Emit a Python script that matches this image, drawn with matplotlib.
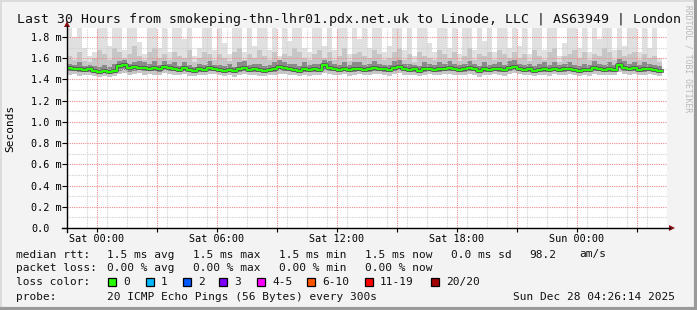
import numpy as np
import matplotlib
matplotlib.use("Agg")
import matplotlib.pyplot as plt
from matplotlib.patches import Rectangle, Polygon
from matplotlib.lines import Line2D
from matplotlib.ticker import MultipleLocator, FixedLocator

# ---------------- data (ms), 15-minute steps starting Fri 22:30 ----------------
median = [
1.51,1.50,1.50,1.49,1.50,1.48,1.47,1.48,1.47,1.48,
1.53,1.54,1.51,1.52,1.51,1.51,1.50,1.51,1.50,1.52,
1.51,1.50,1.49,1.51,1.49,1.48,1.50,1.49,1.51,1.50,
1.49,1.48,1.49,1.48,1.50,1.51,1.49,1.50,1.49,1.48,
1.49,1.50,1.52,1.51,1.50,1.49,1.48,1.50,1.49,1.50,
1.49,1.54,1.51,1.50,1.49,1.50,1.49,1.50,1.50,1.49,
1.50,1.51,1.50,1.50,1.49,1.51,1.52,1.50,1.49,1.50,
1.48,1.50,1.50,1.49,1.50,1.50,1.51,1.50,1.49,1.50,
1.51,1.50,1.48,1.50,1.49,1.50,1.50,1.49,1.51,1.52,
1.50,1.49,1.50,1.48,1.49,1.50,1.49,1.50,1.49,1.50,
1.50,1.49,1.48,1.49,1.49,1.51,1.50,1.49,1.50,1.49,
1.54,1.51,1.50,1.51,1.49,1.50,1.50,1.49,1.48]

smoke_hi = [
1.95,1.80,1.95,1.70,1.62,1.66,1.95,1.95,1.72,1.95,
1.95,1.68,1.95,1.95,1.75,1.64,1.95,1.95,1.70,1.95,
1.66,1.95,1.95,1.78,1.95,1.62,1.70,1.95,1.95,1.68,
1.95,1.74,1.64,1.95,1.95,1.66,1.95,1.72,1.95,1.95,
1.68,1.95,1.62,1.95,1.76,1.95,1.95,1.70,1.66,1.95,
1.95,1.72,1.95,1.68,1.95,1.95,1.64,1.95,1.78,1.95,
1.70,1.95,1.95,1.66,1.72,1.95,1.95,1.68,1.95,1.62,
1.95,1.95,1.74,1.66,1.95,1.95,1.70,1.95,1.64,1.95,
1.95,1.68,1.95,1.76,1.95,1.66,1.95,1.95,1.70,1.95,
1.72,1.95,1.64,1.95,1.95,1.68,1.95,1.95,1.62,1.74,
1.95,1.95,1.70,1.95,1.66,1.95,1.78,1.95,1.95,1.68,
1.95,1.72,1.95,1.95,1.66,1.95,1.70,1.95,1.60]

smoke_p90 = [
1.62,1.58,1.66,1.57,1.56,1.60,1.68,1.64,1.58,1.70,
1.66,1.60,1.64,1.72,1.62,1.58,1.66,1.70,1.60,1.64,
1.58,1.66,1.62,1.60,1.68,1.56,1.60,1.66,1.64,1.58,
1.64,1.60,1.57,1.66,1.70,1.58,1.64,1.60,1.68,1.62,
1.58,1.66,1.57,1.64,1.62,1.70,1.66,1.60,1.58,1.64,
1.68,1.60,1.66,1.58,1.62,1.70,1.57,1.64,1.66,1.62,
1.60,1.68,1.64,1.58,1.60,1.66,1.70,1.58,1.64,1.56,
1.66,1.62,1.60,1.58,1.68,1.64,1.60,1.66,1.57,1.62,
1.70,1.58,1.64,1.62,1.66,1.58,1.68,1.64,1.60,1.66,
1.60,1.64,1.57,1.68,1.62,1.58,1.66,1.70,1.56,1.62,
1.64,1.68,1.60,1.66,1.58,1.64,1.62,1.70,1.66,1.58,
1.68,1.62,1.64,1.66,1.58,1.64,1.60,1.62,1.56]

smoke_p75 = [
1.55,1.54,1.56,1.53,1.54,1.53,1.52,1.54,1.52,1.55,
1.57,1.58,1.55,1.56,1.57,1.56,1.55,1.57,1.54,1.57,
1.55,1.56,1.53,1.56,1.54,1.52,1.55,1.54,1.57,1.54,
1.54,1.53,1.55,1.52,1.56,1.57,1.54,1.55,1.55,1.53,
1.54,1.56,1.58,1.56,1.55,1.55,1.53,1.56,1.54,1.55,
1.55,1.58,1.57,1.55,1.54,1.56,1.54,1.56,1.56,1.54,
1.55,1.57,1.55,1.54,1.54,1.57,1.58,1.55,1.55,1.54,
1.53,1.56,1.55,1.54,1.56,1.55,1.57,1.55,1.54,1.55,
1.57,1.55,1.53,1.56,1.54,1.55,1.56,1.54,1.57,1.58,
1.55,1.54,1.55,1.53,1.55,1.56,1.54,1.56,1.54,1.55,
1.56,1.54,1.53,1.55,1.54,1.57,1.55,1.54,1.56,1.54,
1.59,1.57,1.55,1.56,1.54,1.56,1.55,1.54,1.53]

smoke_p25 = [
1.48,1.48,1.47,1.47,1.47,1.46,1.45,1.46,1.45,1.46,
1.48,1.49,1.47,1.48,1.49,1.48,1.48,1.48,1.47,1.49,
1.48,1.48,1.47,1.48,1.47,1.46,1.47,1.47,1.48,1.48,
1.47,1.46,1.47,1.46,1.47,1.48,1.47,1.47,1.47,1.46,
1.47,1.47,1.49,1.48,1.48,1.47,1.46,1.47,1.47,1.47,
1.47,1.49,1.48,1.48,1.47,1.48,1.47,1.47,1.48,1.47,
1.47,1.48,1.48,1.47,1.47,1.48,1.49,1.48,1.47,1.47,
1.46,1.47,1.48,1.47,1.47,1.48,1.48,1.48,1.47,1.47,
1.48,1.48,1.46,1.47,1.47,1.48,1.47,1.47,1.48,1.49,
1.48,1.47,1.47,1.46,1.47,1.47,1.47,1.48,1.47,1.47,
1.48,1.47,1.46,1.47,1.47,1.48,1.48,1.47,1.47,1.47,
1.51,1.48,1.48,1.48,1.47,1.47,1.48,1.47,1.46]

smoke_lo = [
1.44,1.45,1.43,1.44,1.44,1.43,1.42,1.43,1.42,1.43,
1.45,1.46,1.44,1.45,1.46,1.44,1.45,1.44,1.44,1.46,
1.45,1.44,1.44,1.45,1.43,1.43,1.44,1.44,1.45,1.45,
1.44,1.43,1.44,1.42,1.44,1.45,1.44,1.44,1.43,1.43,
1.44,1.44,1.45,1.45,1.44,1.44,1.43,1.44,1.43,1.44,
1.44,1.46,1.45,1.44,1.44,1.45,1.43,1.44,1.45,1.44,
1.44,1.45,1.45,1.44,1.43,1.45,1.46,1.44,1.44,1.44,
1.43,1.44,1.45,1.44,1.44,1.45,1.45,1.44,1.44,1.44,
1.45,1.44,1.42,1.44,1.44,1.45,1.44,1.43,1.45,1.46,
1.45,1.44,1.44,1.43,1.44,1.44,1.43,1.45,1.44,1.44,
1.45,1.44,1.43,1.44,1.43,1.45,1.44,1.44,1.44,1.44,
1.47,1.45,1.44,1.45,1.44,1.44,1.45,1.44,1.43]

step_hours = 0.25
x_tick_hours = [1.5, 7.5, 13.5, 19.5, 25.5]
x_tick_labels = ["Sat 00:00", "Sat 06:00", "Sat 12:00", "Sat 18:00", "Sun 00:00"]
y_ticks = [0.0, 0.2, 0.4, 0.6, 0.8, 1.0, 1.2, 1.4, 1.6, 1.8]
y_tick_labels = ["0.0", "0.2 m", "0.4 m", "0.6 m", "0.8 m", "1.0 m", "1.2 m", "1.4 m", "1.6 m", "1.8 m"]

title = "Last 30 Hours from smokeping-thn-lhr01.pdx.net.uk to Linode, LLC | AS63949 | London"
legend_rows = [
    [("median rtt:", 16), ("1.5 ms avg", 107), ("1.5 ms max", 193), ("1.5 ms min", 279),
     ("1.5 ms now", 365), ("0.0 ms sd", 451), ("98.2", 529), ("am/s", 579)],
    [("packet loss:", 16), ("0.00 % avg", 107), ("0.00 % max", 193), ("0.00 % min", 279),
     ("0.00 % now", 365)],
    [("loss color:", 16)],
    [("probe:", 16), ("20 ICMP Echo Pings (56 Bytes) every 300s", 107),
     ("Sun Dec 28 04:26:14 2025", 513)],
]
loss_labels = ["0", "1", "2", "3", "4-5", "6-10", "11-19", "20/20"]
loss_colors = ["#26ff00", "#00b8ff", "#0059ff", "#7e00ff", "#ff00ff", "#ff5500", "#ff0000", "#a10000"]
loss_box_x = [108, 146, 183, 219, 257, 307, 365, 431]

# ---------------- figure ----------------
W, H = 697, 310
fig = plt.figure(figsize=(W / 100, H / 100), dpi=100)
fig.patch.set_facecolor("#f3f3f3")
mono = "DejaVu Sans Mono"

L, R, T, B = 67, 667, 28, 228
ax = fig.add_axes([L / W, (H - B) / H, (R - L) / W, (B - T) / H])
ax.set_facecolor("white")

n = len(median)
for arr in (smoke_hi, smoke_p90, smoke_p75, smoke_p25, smoke_lo):
    assert len(arr) == n
edges = np.arange(n + 1) * step_hours
ext = lambda a: np.append(np.asarray(a), a[-1])

ax.fill_between(edges, ext(smoke_lo), ext(smoke_hi), step="post", color="#e0e0e0", lw=0, zorder=1)
ax.fill_between(edges, ext(smoke_lo), ext(smoke_p90), step="post", color="#c6c6c6", lw=0, zorder=1.1)
ax.fill_between(edges, ext(smoke_p25), ext(smoke_p75), step="post", color="#8a8a8a", lw=0, zorder=1.2)
ax.plot(edges, ext(median), drawstyle="steps-post", color="#505050", lw=2.6, zorder=2.8)
ax.plot(edges, ext(median), drawstyle="steps-post", color=loss_colors[0], lw=1.5, zorder=3)

ax.set_xlim(0, 30)
ax.set_ylim(0, 1.885)

ax.xaxis.set_minor_locator(MultipleLocator(1))
ax.set_xticks(np.arange(1.5, 30, 3))
ax.set_xticklabels([x_tick_labels[x_tick_hours.index(v)] if v in x_tick_hours else ""
                    for v in np.arange(1.5, 30, 3)])
ax.yaxis.set_major_locator(FixedLocator(y_ticks))
ax.set_yticklabels(y_tick_labels)
ax.yaxis.set_minor_locator(MultipleLocator(0.1))

ax.grid(which="minor", color="#d0d0d0", ls=(0, (1, 1)), lw=0.8)
ax.grid(which="major", color="#f08c8c", ls=(0, (1, 1)), lw=0.8)
ax.set_axisbelow(False)
for g in ax.get_xgridlines() + ax.get_ygridlines():
    g.set_zorder(2.5)

for s in ax.spines.values():
    s.set_visible(False)

ax.tick_params(which="minor", length=0)
ax.tick_params(axis="x", which="major", length=3, width=0.8, direction="out", pad=1.5,
               labelsize=7.3, labelfontfamily=mono, color="black")
ax.tick_params(axis="y", which="major", length=3.6, width=0.8, direction="out", pad=22.3,
               labelsize=7.3, labelfontfamily=mono, color="black")
for lbl in ax.get_yticklabels():
    lbl.set_horizontalalignment("left")

# ---------------- overlay in pixel coordinates ----------------
ov = fig.add_axes([0, 0, 1, 1], zorder=10)
ov.set_xlim(0, W)
ov.set_ylim(H, 0)
ov.axis("off")

# frame
ov.add_line(Line2D([0.5, W - 1], [0.5, 0.5], color="#d8d8d8", lw=1.2))
ov.add_line(Line2D([0.5, 0.5], [0.5, H - 1], color="#d8d8d8", lw=1.2))
ov.add_line(Line2D([W - 1.5, W - 1.5], [0, H], color="#9a9a9a", lw=3))
ov.add_line(Line2D([0, W], [H - 1.5, H - 1.5], color="#9a9a9a", lw=3))

# axes lines with arrows
ov.add_line(Line2D([62, 670], [B, B], color="black", lw=1))
ov.add_line(Line2D([L, L], [B + 4, 26], color="black", lw=1))
ov.add_patch(Polygon([[669, B - 3], [675, B], [669, B + 3]], closed=True, color="#8b1010", lw=0))
ov.add_patch(Polygon([[L - 3, 27], [L, 21], [L + 3, 27]], closed=True, color="#8b1010", lw=0))

ov.text(17, 19, title, family=mono, fontsize=9.5, va="center", ha="left", color="#111111")
ov.text(10, 128, "Seconds", family=mono, fontsize=8.0, rotation=90, va="center", ha="center")
ov.text(688, 5, "RRDTOOL / TOBI OETIKER", family=mono, fontsize=5.8, rotation=-90,
        va="top", ha="center", color="#b8b8b8")

row_y = [254.5, 268, 282, 296.5]
fs_leg = 8.0
for row, yy in zip(legend_rows, row_y):
    for txt, xx in row:
        ov.text(xx, yy, txt, family=mono, fontsize=fs_leg, va="center", ha="left", color="#111111")

for lab, col, bx in zip(loss_labels, loss_colors, loss_box_x):
    ov.add_patch(Rectangle((bx, 278), 8, 8, facecolor=col, edgecolor="black", lw=0.9))
    ov.text(bx + 15, row_y[2], lab, family=mono, fontsize=fs_leg, va="center", ha="left", color="#111111")

fig.savefig("out.png", dpi=100, facecolor=fig.get_facecolor())
